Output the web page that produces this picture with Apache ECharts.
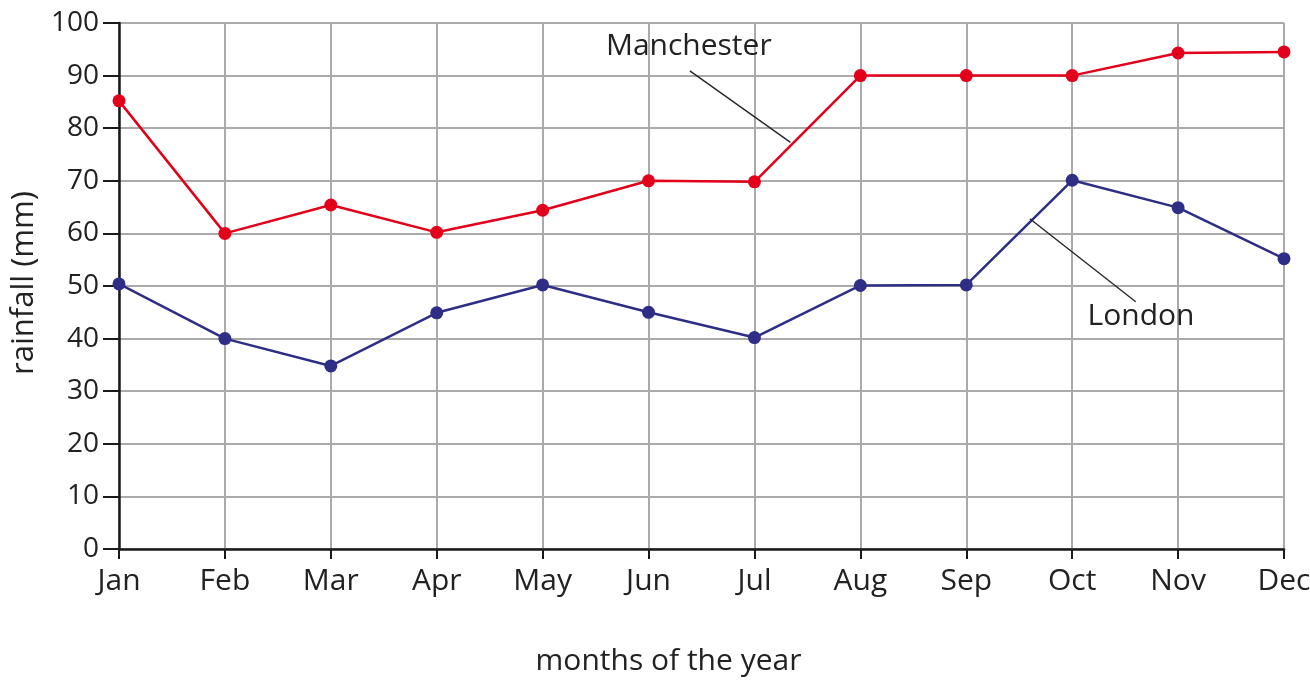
<!DOCTYPE html>
<html><head><meta charset="utf-8">
<script src="https://cdn.jsdelivr.net/npm/echarts@6/dist/echarts.min.js"></script>
<style>html,body{margin:0;padding:0;background:#fff}#c{width:1310px;height:680px}</style>
</head><body><div id="c"></div>
<script>
const months = ['Jan','Feb','Mar','Apr','May','Jun','Jul','Aug','Sep','Oct','Nov','Dec'];
const manchester = [85.2, 60, 65.4, 60.2, 64.4, 70, 69.8, 90, 90, 90, 94.3, 94.5];
const london = [50.4, 40, 34.8, 44.9, 50.2, 45, 40.2, 50.1, 50.2, 70.1, 64.9, 55.2];
const yTicks = [0,10,20,30,40,50,60,70,80,90,100];

const FONT = '"Open Sans", "Noto Sans", sans-serif';
const chart = echarts.init(document.getElementById('c'), null, {renderer:'canvas'});
chart.setOption({
  animation:false,
  backgroundColor:'#fff',
  grid:{left:119, right:26, top:23, bottom:131, containLabel:false, outerBoundsMode:'none'},
  xAxis:{
    type:'category', data:months, boundaryGap:false,
    axisLine:{lineStyle:{color:'#1a1a1a', width:2.5}},
    axisTick:{show:true, length:10, alignWithLabel:true, lineStyle:{color:'#1a1a1a', width:2}},
    axisLabel:{color:'#222', fontSize:30, fontFamily:FONT, margin:17},
    splitLine:{show:true, lineStyle:{color:'#aaaaaa', width:2}},
    name:'months of the year', nameLocation:'middle', nameGap:97,
    nameTextStyle:{color:'#222', fontSize:30, fontFamily:FONT, padding:[0,66,0,0]}
  },
  yAxis:{
    type:'value', min:0, max:100, interval:10,
    axisLine:{show:true, lineStyle:{color:'#1a1a1a', width:2.5}},
    axisTick:{show:true, length:16, lineStyle:{color:'#1a1a1a', width:2}},
    axisLabel:{color:'#222', fontSize:28, fontFamily:FONT, margin:20,
      formatter:v=> yTicks.includes(v) ? String(v) : ''},
    splitLine:{show:true, lineStyle:{color:'#aaaaaa', width:2}},
    name:'rainfall (mm)', nameLocation:'middle', nameGap:76, nameRotate:90,
    nameTextStyle:{color:'#222', fontSize:31, fontFamily:FONT, padding:[0,0,0,6]}
  },
  series:[
    {name:'Manchester', type:'line', data:manchester, symbol:'circle', symbolSize:13,
     lineStyle:{color:'#e3001b', width:2.5}, itemStyle:{color:'#e3001b'}, z:3},
    {name:'London', type:'line', data:london, symbol:'circle', symbolSize:13,
     lineStyle:{color:'#2e2e86', width:2.5}, itemStyle:{color:'#2e2e86'}, z:3}
  ]
});

function px(idx, val){
  const i0 = Math.floor(idx), i1 = Math.min(i0+1, months.length-1);
  const a = chart.convertToPixel({gridIndex:0}, [i0, val]);
  const b = chart.convertToPixel({gridIndex:0}, [i1, val]);
  return [a[0] + (b[0]-a[0])*(idx-i0), a[1]];
}
const m1 = px(5.39, 90.9), m2 = px(6.34, 77.3), mt = px(5.38, 95.5);
const l1 = px(8.6, 62.8), l2 = px(9.6, 47.0), lt = px(9.65, 44.3);
chart.setOption({graphic:[
  {type:'line', shape:{x1:m1[0],y1:m1[1],x2:m2[0],y2:m2[1]}, style:{stroke:'#222', lineWidth:1.3}, z:10},
  {type:'text', x:mt[0], y:mt[1], style:{text:'Manchester', fill:'#222', font:'30px '+FONT, textAlign:'center', textVerticalAlign:'middle'}, z:10},
  {type:'line', shape:{x1:l1[0],y1:l1[1],x2:l2[0],y2:l2[1]}, style:{stroke:'#222', lineWidth:1.3}, z:10},
  {type:'text', x:lt[0], y:lt[1], style:{text:'London', fill:'#222', font:'30px '+FONT, textAlign:'center', textVerticalAlign:'middle'}, z:10}
]});
</script></body></html>
